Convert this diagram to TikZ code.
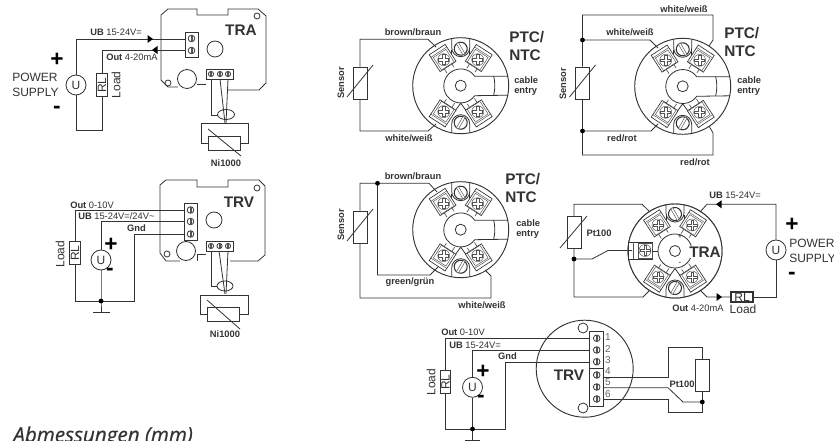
\documentclass[tikz,border=0pt]{standalone}
\usepackage{fontspec}
\setmainfont{Liberation Sans}
\newfontfamily\titlefont[ItalicFeatures={FakeBold=0.5}]{Open Sans}
\def\pxu{0.75pt}
\definecolor{ink}{HTML}{333333}
\tikzset{
  wire/.style={draw=ink,line width=0.6pt},
  part/.style={draw=ink,line width=0.6pt,fill=white},
  fine/.style={draw=ink!85,line width=0.35pt},
  lab/.style={text=ink,inner sep=0pt,font=\fontsize{7}{8}\selectfont},
  blab/.style={lab,font=\fontsize{7}{8}\selectfont\bfseries},
  bigt/.style={text=ink,inner sep=0pt,font=\fontsize{11.5}{12}\selectfont\bfseries},
  mid/.style={text=ink,inner sep=0pt,font=\fontsize{9}{10}\selectfont},
  sign/.style={text=black,inner sep=0pt,font=\fontsize{17}{17}\selectfont\bfseries},
  usrc/.style={circle,draw=ink,line width=0.6pt,fill=white,minimum size=15pt,inner sep=0pt,text=ink,font=\fontsize{9}{10}\selectfont},
  rlv/.style={rectangle,draw=ink,line width=0.8pt,fill=white,minimum width=7.8pt,minimum height=17pt,inner sep=0pt,text=ink,font=\fontsize{9}{10}\selectfont},
  rlh/.style={rectangle,draw=ink,line width=0.8pt,fill=white,minimum width=16.5pt,minimum height=7.5pt,inner sep=0pt,text=ink,font=\fontsize{9}{10}\selectfont},
  senv/.style={rectangle,draw=ink,line width=0.6pt,fill=white,minimum width=10.5pt,minimum height=24pt,inner sep=0pt},
  senh/.style={rectangle,draw=ink,line width=0.6pt,fill=white,minimum width=24.5pt,minimum height=11pt,inner sep=0pt},
  junction/.style={circle,fill=black,minimum size=3.6pt,inner sep=0pt},
}
% screw with parallel slot
\newcommand{\slotscrew}[4]{\begin{scope}[shift={(#1,#2)},rotate=#4]
  \draw[part,line width=0.8pt] (0,0) circle[radius=#3*\pxu];
  \draw[fine,fill=white] (-#3,-1.2) rectangle (#3,1.2);
\end{scope}}
% terminal-strip screw
\newcommand{\tscrew}[3]{\begin{scope}[shift={(#1,#2)}]
  \draw[part] (0,0) circle[radius=#3*\pxu];
  \draw[fine] (-0.7,-#3) -- (-0.7,#3) (0.7,-#3) -- (0.7,#3);
\end{scope}}
% cross-head screw
\newcommand{\crossscrew}[3]{\begin{scope}[shift={(#1,#2)},rotate=#3]
  \draw[fine] (0,0) circle[radius=6*\pxu];
  \draw[fine,fill=white] (-5,-1.1) -- (-1.1,-1.1) -- (-1.1,-5) -- (1.1,-5) -- (1.1,-1.1) -- (5,-1.1) -- (5,1.1) -- (1.1,1.1) -- (1.1,5) -- (-1.1,5) -- (-1.1,1.1) -- (-5,1.1) -- cycle;
\end{scope}}
% terminal block, rim side towards local -y
\newcommand{\termblock}[3]{\begin{scope}[shift={(#1,#2)},rotate=#3]
  \draw[fine,line width=0.5pt] (-4.5,8) -- (-4.5,13) (4.5,8) -- (4.5,12);
  \draw[part,line width=0.5pt] (-9.5,-12) rectangle (9.5,8);
  \draw[fine] (-9.5,-9) -- (9.5,-9);
  \draw[fine] (-7.5,-7.5) rectangle (7.5,7.5);
  \crossscrew{0}{0}{-#3}
\end{scope}}
% common parts of a connection head
\newcommand{\headcore}[1]{%
  \draw[part,line width=0.7pt] (0,0) circle[radius=#1*\pxu];
  \draw[wire] (-9,-#1+1) -- (-9,-38) arc[start angle=180,end angle=360,radius=9*\pxu] -- (9,-#1+1);
  \draw[wire] (-9,#1-1) -- (-9,38) arc[start angle=180,end angle=0,radius=9*\pxu] -- (9,#1-1);
  \draw[wire] (0,17.5) -- (-17,41) (0,17.5) -- (17,41);
  \draw[wire] (-9,-36) -- (-9,-30) (9,-36) -- (9,-30);
  \slotscrew{0}{-37}{6.5}{-60}
  \slotscrew{0}{37}{6.5}{60}
  \termblock{-17}{-26}{33}
  \termblock{17}{-26}{-33}
  \termblock{-17}{26}{147}
  \termblock{17}{26}{-147}
}
\newcommand{\hubcable}{%
  \draw[wire] (47.5,-9.5) -- (14,-9.5) arc[start angle=35,end angle=325,radius=17*\pxu] -- (47.5,9.5);
  \draw[wire] (33,-9.5) .. controls (34.5,-3) and (34.5,3) .. (33,9.5);
  \draw[wire] (0,0) circle[radius=5.5*\pxu];
}
\newcommand{\sendiag}[1]{\draw[wire] ([shift={(13,-18)}]#1.center) -- ([shift={(-13,14)}]#1.center);}
\newcommand{\arrowR}[2]{\fill[black] (#1-2.5,#2-4) -- (#1+3,#2) -- (#1-2.5,#2+4) -- cycle;}
\newcommand{\arrowL}[2]{\fill[black] (#1+2.5,#2-4) -- (#1-3,#2) -- (#1+2.5,#2+4) -- cycle;}
\begin{document}
\begin{tikzpicture}[x=0.75pt,y=-0.75pt]
\useasboundingbox (0,0) rectangle (834,441);
\fill[white] (0,0) rectangle (834,441);

% ---------- TRA board (top left)
\draw[wire] (178,87) -- (168,87) -- (161,80) -- (161,15) -- (168,9) -- (197,9) -- (197,15) -- (228,15) -- (228,9) -- (258,9) -- (266,16) -- (266,83) -- (259,90) -- (228,90);
\draw[wire] (197,84) -- (206,84);
\draw[wire] (215,49) circle[radius=8*\pxu];
\draw[wire] (187,79) circle[radius=9.5*\pxu];
\draw[wire] (257,16) circle[radius=3*\pxu];
\draw[wire] (168,83) circle[radius=3*\pxu];
\node[part,rectangle,minimum width=9.8pt,minimum height=18.8pt,inner sep=0pt] (b1) at (191.5,44.5) {};
\tscrew{191.5}{38.5}{3.3}\tscrew{191.5}{50.5}{3.3}
\node[part,rectangle,minimum width=20.3pt,minimum height=7.5pt,inner sep=0pt] (c1) at (219.5,74) {};
\tscrew{211}{74}{2.6}\tscrew{220}{74}{2.6}\tscrew{228}{74}{2.6}
\node[usrc] (U1) at (76,85) {U};
\node[rlv] (RL1) at (102,85) {\rotatebox{90}{RL}};
\coordinate (t1a) at (b1.west |- 0,39);
\coordinate (t1b) at (b1.west |- 0,50);
\draw[wire] (U1.north) |- (t1a);
\draw[wire] (t1b) -| (RL1.north);
\draw[wire] (RL1.south) |- (76,130) -- (U1.south);
\arrowR{150}{39}\arrowL{155}{50}
\node[blab,anchor=west] (l1) at (90,32) {UB \mdseries 15-24V=};
\node[blab,anchor=west] (l2) at (106,57.5) {Out \mdseries 4-20mA};
\node[mid,rotate=90] (l3) at (116,85) {Load};
\node[sign] (l4) at (57,60) {+};
\node[sign] (l5) at (57,110) {-};
\node[mid,anchor=west] (l6) at (12,77) {POWER};
\node[mid,anchor=west] (l7) at (12,92) {SUPPLY};
\node[bigt] (l8) at (241,30) {TRA};
% Ni1000
\draw[wire] (208,143) -- (201,143) -- (201,123) -- (248,123) -- (248,143) -- (241,143);
\node[senh] (N1) at (224.5,143.5) {};
\draw[wire] (208,129) -- (241,156);
\draw[wire] (211,79) -- (211,115) -- (218,115);
\draw[wire] (220,79) -- (225,123);
\draw[wire] (228,79) -- (226,123);
\draw[wire] (226,114.5) ellipse[x radius=8.5*\pxu,y radius=5*\pxu];
\node[blab] (l9) at (226,163) {Ni1000};

% ---------- TRV board (left)
\draw[wire] (180,261) -- (166,261) -- (160,253) -- (160,185) -- (166,180) -- (197,180) -- (197,187) -- (228,187) -- (228,180) -- (259,180) -- (265,186) -- (265,255) -- (258,261) -- (230,261);
\draw[wire] (197,261) -- (197,254) -- (206,254);
\draw[wire] (214,220) circle[radius=8*\pxu];
\draw[wire] (186,251) circle[radius=9.5*\pxu];
\draw[wire] (257,188) circle[radius=3*\pxu];
\draw[wire] (167,254) circle[radius=3*\pxu];
\node[part,rectangle,minimum width=9.8pt,minimum height=28pt,inner sep=0pt] (b2) at (190.5,222) {};
\tscrew{190.5}{210}{3.3}\tscrew{190.5}{221.5}{3.3}\tscrew{190.5}{234}{3.3}
\node[part,rectangle,minimum width=20.3pt,minimum height=7.5pt,inner sep=0pt] (c2) at (219.5,246) {};
\tscrew{211}{246}{2.6}\tscrew{219.5}{246}{2.6}\tscrew{228}{246}{2.6}
\node[usrc] (U2) at (101,260) {U};
\node[rlv] (RL2) at (75,253) {\rotatebox{90}{RL}};
\coordinate (t2a) at (b2.west |- 0,210);
\coordinate (t2b) at (b2.west |- 0,221.5);
\coordinate (t2c) at (b2.west |- 0,234);
\coordinate (g2) at (101,301);
\coordinate (g2e) at (101,312);
\draw[wire] (t2a) -| (RL2.north);
\draw[wire] (t2b) -| (U2.north);
\draw[wire] (RL2.south) |- (g2);
\draw[wire] (U2.south) -- (g2) -- (g2e);
\draw[wire] (g2) -- (134,301) |- (t2c);
\draw[wire] (93,312) -- (110,312);
\node[junction] (j1) at (g2) {};
\node[blab,anchor=west] (l10) at (70,205) {Out \mdseries 0-10V};
\node[blab,anchor=west] (l11) at (78,216) {UB \mdseries 15-24V=/24V\textasciitilde};
\node[blab] (l12) at (136.5,228) {Gnd};
\node[mid,rotate=90] (l13) at (60,254) {Load};
\node[sign] (l14) at (111,245) {+};
\node[sign] (l15) at (110,272) {-};
\node[bigt] (l16) at (239,202) {TRV};
\draw[wire] (207,314) -- (200,314) -- (200,295) -- (248,295) -- (248,314) -- (240,314);
\node[senh] (N2) at (223.5,314.5) {};
\draw[wire] (207,300) -- (240,329);
\draw[wire] (211,251) -- (211,286) -- (217,286);
\draw[wire] (219,251) -- (225,294);
\draw[wire] (228,251) -- (226,294);
\draw[wire] (225,286) ellipse[x radius=8*\pxu,y radius=5*\pxu];
\node[blab] (l17) at (225,334) {Ni1000};

% ---------- Head 1
\begin{scope}[shift={(460.7,85.7)}]\headcore{48}\hubcable\end{scope}
\node[senv] (S1) at (360,83) {};
\sendiag{S1}
\coordinate (h1a) at (436,47);
\coordinate (h1b) at (436,124);
\draw[wire] (S1.north) |- (428,39.3) -- (h1a);
\draw[wire] (S1.south) |- (428,131) -- (h1b);
\node[blab] (l20) at (413,32) {brown/braun};
\node[blab] (l21) at (409,138) {white/weiß};
\node[blab,rotate=90] (l22) at (341,83) {Sensor};
\node[bigt,anchor=west] (l23) at (509,37) {PTC/};
\node[bigt,anchor=west] (l24) at (509,55) {NTC};
\node[blab,anchor=west] (l25) at (514,80) {cable};
\node[blab,anchor=west] (l26) at (514,91) {entry};

% ---------- Head 2
\begin{scope}[shift={(682.7,86.3)}]\headcore{48}\hubcable\end{scope}
\node[senv] (S2) at (582.5,83) {};
\sendiag{S2}
\coordinate (h2a) at (658,48);
\coordinate (h2b) at (658,124);
\coordinate (h2c) at (709,46);
\coordinate (h2d) at (709,126);
\draw[wire] (h2c) -- (713,40) |- (S2.north |- 0,15) -- (S2.north);
\draw[wire] (h2d) -- (713,133) |- (S2.south |- 0,155) -- (S2.south);
\draw[wire] (S2.north |- 0,40) -- (650,40) -- (h2a);
\draw[wire] (S2.south |- 0,131) -- (651,131) -- (h2b);
\node[junction] (j2) at (S2.north |- 0,40) {};
\node[junction] (j3) at (S2.south |- 0,131) {};
\node[blab] (l30) at (684,9) {white/weiß};
\node[blab] (l31) at (630,32) {white/weiß};
\node[blab] (l32) at (622,138) {red/rot};
\node[blab] (l33) at (695,162) {red/rot};
\node[blab,rotate=90] (l34) at (563,84) {Sensor};
\node[bigt,anchor=west] (l35) at (724,33) {PTC/};
\node[bigt,anchor=west] (l36) at (724,51) {NTC};
\node[blab,anchor=west] (l37) at (737,80) {cable};
\node[blab,anchor=west] (l38) at (737,91) {entry};

% ---------- Head 3
\begin{scope}[shift={(460.7,229.7)}]\headcore{48}\hubcable\end{scope}
\node[senv] (S3) at (360,227) {};
\sendiag{S3}
\coordinate (h3a) at (437,192);
\coordinate (h3b) at (438,267);
\coordinate (h3c) at (485,270);
\draw[wire] (S3.north) |- (429,183.3) -- (h3a);
\draw[wire] (377.5,183.3) |- (430,275) -- (h3b);
\draw[wire] (S3.south) |- (491,298) -- (491,276) -- (h3c);
\node[junction] (j4) at (377.5,183.3) {};
\node[blab] (l40) at (413,176) {brown/braun};
\node[blab] (l41) at (410,282) {green/grün};
\node[blab] (l42) at (482,305) {white/weiß};
\node[blab,rotate=90] (l43) at (341,225) {Sensor};
\node[bigt,anchor=west] (l44) at (505,179) {PTC/};
\node[bigt,anchor=west] (l45) at (505,197) {NTC};
\node[blab,anchor=west] (l46) at (516,223) {cable};
\node[blab,anchor=west] (l47) at (516,234) {entry};

% ---------- Head 4 (TRA)
\begin{scope}[shift={(675,251)}]
  \draw[part,line width=0.7pt] (0,0) circle[radius=47*\pxu];
  \draw[wire] (0,0) circle[radius=36*\pxu];
  \headcore{47}
  \draw[part,line width=0.5pt] (-47,-9) rectangle (-23,8);
  \draw[fine] (-42,-9) -- (-42,8);
  \draw[fine] (-37,-8) rectangle (-23,7);
  \crossscrew{-30}{-0.5}{0}
  \draw[wire] (-23,0) -- (-17,0);
  \draw[part] (0,0) circle[radius=17*\pxu];
  \draw[wire] (0,0) circle[radius=5.5*\pxu];
\end{scope}
\node[lab] (l56) at (680,237) {\fontsize{5}{5}\selectfont\bfseries +};
\node[lab] (l57) at (680,263) {\fontsize{5}{5}\selectfont\bfseries -};
\node[bigt,fill=white,inner sep=0.5pt] (l50) at (705,252) {TRA};
\node[senv] (S4) at (574,232.5) {};
\draw[wire] (587,216) -- (560,248);
\node[usrc] (U4) at (776,250) {U};
\node[rlh] (RL4) at (742,297) {RL};
\coordinate (h4a) at (650,212);
\coordinate (h4b) at (650,290);
\coordinate (h4c) at (632,250.5);
\coordinate (h4d) at (700,212);
\coordinate (h4e) at (700,290);
\draw[wire] (S4.north) |- (642,204.3) -- (h4a);
\draw[wire] (S4.south) |- (643,297) -- (h4b);
\draw[wire] (574,259) -- (592,259) -- (608,250.5) -- (h4c);
\node[junction] (j5) at (574,259) {};
\draw[wire] (h4d) -- (707,204.3) -| (U4.north);
\draw[wire] (U4.south) |- (RL4.east);
\draw[wire] (RL4.west) -- (707,297) -- (h4e);
\arrowL{719}{204.3}\arrowR{719}{297}
\node[blab] (l51) at (599,233.5) {Pt100};
\node[blab,anchor=west] (l52) at (709,195) {UB \mdseries 15-24V=};
\node[blab,anchor=west] (l53) at (672,308) {Out \mdseries 4-20mA};
\node[mid] (l54) at (743,309) {Load};
\node[sign] (l55) at (792,225) {+};
\node[sign] (l58) at (792,276) {-};
\node[mid,anchor=west] (l59) at (789,243) {POWER};
\node[mid,anchor=west] (l60) at (789,258) {SUPPLY};

% ---------- Bottom TRV
\draw[part,line width=0.7pt] (584.7,368.7) circle[radius=48.5*\pxu];
\node[part,circle,minimum size=7.5pt,inner sep=0pt] (h5) at (583,328) {};
\node[part,circle,minimum size=7.5pt,inner sep=0pt] (h6) at (583,408) {};
\node[part,rectangle,minimum width=10.5pt,minimum height=56.25pt,inner sep=0pt] (b5) at (596,369.2) {};
\draw[wire] (589,368.3) -- (603,368.3);
\tscrew{596.7}{338.3}{3.3}\tscrew{596.7}{350}{3.3}\tscrew{596.7}{361.7}{3.3}
\tscrew{596.7}{375}{3.3}\tscrew{596.7}{387}{3.3}\tscrew{596.7}{399}{3.3}
\foreach \n/\yy in {1/337,2/349,3/360.5,4/371.5,5/382.5,6/394.5}
  \node[lab,text=gray!80!black,font=\fontsize{7.5}{8}\selectfont] (num\n) at (608,\yy) {\n};
\node[usrc] (U5) at (472.5,387.3) {U};
\node[rlv] (RL5) at (445.5,382) {\rotatebox{90}{RL}};
\coordinate (t5a) at (b5.west |- 0,338.3);
\coordinate (t5b) at (b5.west |- 0,350);
\coordinate (t5c) at (b5.west |- 0,362);
\coordinate (g5) at (472.5,429);
\coordinate (g5e) at (472.5,440);
\draw[wire] (t5a) -| (RL5.north);
\draw[wire] (t5b) -| (U5.north);
\draw[wire] (RL5.south) |- (g5);
\draw[wire] (U5.south) -- (g5) -- (g5e);
\draw[wire] (g5) -- (505,429) |- (t5c);
\draw[wire] (465,440) -- (480,440);
\node[junction] (j6) at (g5) {};
\node[blab,anchor=west] (l70) at (441,332) {Out \mdseries 0-10V};
\node[blab,anchor=west] (l71) at (449,345) {UB \mdseries 15-24V=};
\node[blab] (l72) at (507.5,356) {Gnd};
\node[mid,rotate=90] (l73) at (431,382) {Load};
\node[sign] (l74) at (483,372) {+};
\node[sign] (l75) at (481,399) {-};
\node[bigt] (l76) at (569,375) {TRV};
\node[senv] (S5) at (702.3,375.2) {};
\coordinate (t5d) at (b5.east |- 0,377);
\coordinate (t5e) at (b5.east |- 0,387.7);
\coordinate (t5f) at (b5.east |- 0,399);
\coordinate (j7c) at (702.3,402);
\draw[wire] (t5d) -- (668,377) |- (S5.north |- 0,347) -- (S5.north);
\draw[wire] (S5.south) -- (j7c) -- (702.3,412) -| (668,399) -- (t5f);
\draw[wire] (t5e) -- (668,387.7) -- (683,402) -- (j7c);
\node[junction] (j7) at (j7c) {};
\node[blab] (l77) at (682,384) {Pt100};

% ---------- Caption
\node[text=ink,inner sep=0pt,anchor=base west,font=\titlefont\fontsize{15.5}{17}\selectfont\itshape] (cap) at (13,442) {Abmessungen (mm)};
\end{tikzpicture}
\end{document}
